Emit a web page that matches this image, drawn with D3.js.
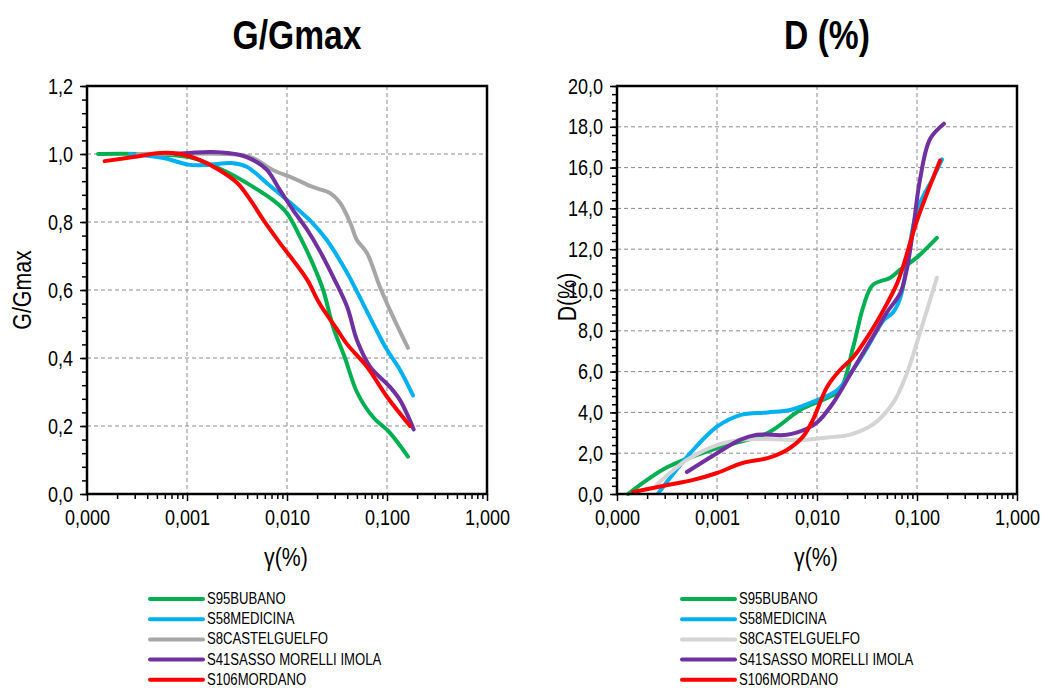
<!DOCTYPE html>
<html>
<head>
<meta charset="utf-8">
<script src="https://cdn.jsdelivr.net/npm/d3@7"></script>
<style>
  body { margin: 0; background: #fff; }
  svg text { font-family: "Liberation Sans", Arial, sans-serif; fill: #000; }
</style>
</head>
<body>
<div id="chart"></div>
<script>
// shared axis stuff
var gammaTicks = [0.0001, 0.001, 0.01, 0.1, 1];
var gammaLabels = ["0,000", "0,001", "0,010", "0,100", "1,000"];
var seriesNames = ["S95BUBANO", "S58MEDICINA", "S8CASTELGUELFO", "S41SASSO MORELLI IMOLA", "S106MORDANO"];

// G/Gmax curves  [gamma %, G/Gmax]
var ggBubano = [[0.000129, 1.0], [0.00034, 1.0], [0.00107, 0.99], [0.0025, 0.947], [0.0046, 0.903], [0.0072, 0.865],
  [0.010, 0.826], [0.0135, 0.756], [0.018, 0.679], [0.023, 0.60], [0.029, 0.49], [0.038, 0.40], [0.050, 0.30],
  [0.072, 0.227], [0.107, 0.18], [0.162, 0.11]];
var ggMedicina = [[0.00027, 1.0], [0.00058, 0.988], [0.00107, 0.968], [0.0016, 0.968], [0.0029, 0.973], [0.0040, 0.962],
  [0.0063, 0.914], [0.010, 0.865], [0.018, 0.797], [0.025, 0.747], [0.040, 0.65], [0.0575, 0.56], [0.079, 0.48],
  [0.100, 0.424], [0.135, 0.365], [0.182, 0.29]];
var ggCastel = [[0.00032, 1.0], [0.0034, 0.997], [0.0046, 0.988], [0.0072, 0.953], [0.0115, 0.929], [0.018, 0.903],
  [0.027, 0.885], [0.034, 0.856], [0.043, 0.797], [0.050, 0.747], [0.063, 0.709], [0.085, 0.609], [0.115, 0.521],
  [0.162, 0.43]];
var ggSasso = [[0.00076, 1.0], [0.0018, 1.006], [0.0034, 0.997], [0.0046, 0.982], [0.0063, 0.953], [0.0085, 0.894],
  [0.0115, 0.835], [0.016, 0.776], [0.021, 0.718], [0.029, 0.638], [0.040, 0.55], [0.050, 0.453], [0.068, 0.374],
  [0.107, 0.315], [0.135, 0.276], [0.185, 0.19]];
var ggMordano = [[0.00015, 0.979], [0.00029, 0.991], [0.00054, 1.003], [0.00085, 1.0], [0.00135, 0.982], [0.0021, 0.953],
  [0.0032, 0.914], [0.0043, 0.865], [0.0058, 0.806], [0.0085, 0.738], [0.0115, 0.688], [0.016, 0.629], [0.021, 0.562],
  [0.032, 0.482], [0.040, 0.44], [0.063, 0.374], [0.100, 0.286], [0.17, 0.2]];

// D (%) curves  [gamma %, D %]
var dBubano = [[0.000129, 0.0], [0.00032, 1.32], [0.001, 2.25], [0.0032, 2.99], [0.0068, 4.12], [0.0126, 4.71],
  [0.017, 5.1], [0.023, 7.2], [0.029, 9.17], [0.036, 10.24], [0.054, 10.6], [0.068, 11.0], [0.100, 11.6], [0.158, 12.55]];
var dMedicina = [[0.00026, 0.05], [0.00054, 2.0], [0.001, 3.3], [0.0017, 3.87], [0.0032, 4.0], [0.0054, 4.12],
  [0.010, 4.6], [0.016, 5.1], [0.023, 6.1], [0.032, 7.2], [0.046, 8.5], [0.0575, 8.9], [0.068, 9.6], [0.100, 13.9],
  [0.145, 15.5], [0.178, 16.4]];
var dCastel = [[0.00025, 0.45], [0.0005, 1.67], [0.001, 2.4], [0.0017, 2.65], [0.0032, 2.7], [0.0068, 2.65],
  [0.0145, 2.8], [0.021, 2.9], [0.036, 3.4], [0.0575, 4.46], [0.079, 5.9], [0.107, 7.9], [0.158, 10.6]];
var dSasso = [[0.0005, 1.08], [0.001, 2.0], [0.0017, 2.65], [0.0025, 2.9], [0.005, 2.9], [0.0079, 3.2], [0.010, 3.5],
  [0.0145, 4.46], [0.023, 6.1], [0.036, 7.7], [0.050, 8.9], [0.068, 9.85], [0.079, 11.0], [0.091, 12.9], [0.107, 15.4],
  [0.135, 17.4], [0.186, 18.15]];
var dMordano = [[0.000145, 0.1], [0.00032, 0.44], [0.00058, 0.69], [0.001, 1.03], [0.0018, 1.52], [0.0032, 1.76],
  [0.005, 2.16], [0.0072, 2.8], [0.0091, 3.63], [0.0126, 5.25], [0.017, 6.08], [0.023, 6.7], [0.032, 7.7],
  [0.046, 9.0], [0.063, 10.3], [0.072, 11.1], [0.100, 13.4], [0.145, 15.5], [0.17, 16.35]];

var ggYTicks = [0, 0.2, 0.4, 0.6, 0.8, 1.0, 1.2];
var dYTicks = [0, 2, 4, 6, 8, 10, 12, 14, 16, 18, 20];

var svgWidth = 1042;
var svgHeight = 688;
// no narrow font installed, so squeeze Liberation Sans horizontally
var squeeze = 0.82;

var svg = d3.select("#chart")
  .append("svg")
  .attr("width", svgWidth)
  .attr("height", svgHeight);

// minor log ticks 2..9 in every decade
var minorX = [];
[0.0001, 0.001, 0.01, 0.1].forEach(function(dec) {
  for (var k = 2; k <= 9; k++) minorX.push(dec * k);
});

// text helper: place at (x,y), optional rotation, narrowed
function addText(parent, x, y, str, size, extra) {
  return parent.append("text")
    .attr("transform", "translate(" + x + "," + y + ")" + (extra || "") + " scale(" + squeeze + ",1)")
    .style("font-size", size + "px")
    .text(str);
}

function drawPanel(p) {
  var x = d3.scaleLog().domain([0.0001, 1]).range([p.left, p.left + 400]);
  var y = d3.scaleLinear().domain([0, p.yMax]).range([494, 86]);
  var g = svg.append("g");

  // minor y ticks
  var minorY = d3.range(0, p.yMax + 1e-9, p.yMinor);

  // grid
  g.selectAll(".vgrid").data([0.001, 0.01, 0.1]).enter().append("line")
    .attr("x1", function(d) { return x(d); }).attr("x2", function(d) { return x(d); })
    .attr("y1", 86).attr("y2", 494)
    .attr("stroke", "#8c8c8c").attr("stroke-width", 1).attr("stroke-dasharray", "4,3");
  g.selectAll(".hgrid").data(p.yTicks.slice(1, -1)).enter().append("line")
    .attr("x1", p.left).attr("x2", p.left + 400)
    .attr("y1", function(d) { return y(d); }).attr("y2", function(d) { return y(d); })
    .attr("stroke", "#8c8c8c").attr("stroke-width", 1).attr("stroke-dasharray", "4,3");

  // axes
  var xAxis = d3.axisBottom(x).tickValues(gammaTicks)
    .tickFormat(function(d, i) { return gammaLabels[i]; }).tickSize(7).tickPadding(8);
  var xMinor = d3.axisBottom(x).tickValues(minorX).tickFormat("").tickSize(5);
  var yAxis = d3.axisLeft(y).tickValues(p.yTicks)
    .tickFormat(function(d) { return d3.format(".1f")(d).replace(".", ","); }).tickSize(7).tickPadding(7);
  var yMinor = d3.axisLeft(y).tickValues(minorY).tickFormat("").tickSize(5);

  [[xAxis, "x"], [xMinor, "x"], [yAxis, "y"], [yMinor, "y"]].forEach(function(a) {
    var ax = g.append("g")
      .attr("transform", a[1] === "x" ? "translate(0,494)" : "translate(" + p.left + ",0)")
      .call(a[0]);
    ax.select(".domain").remove();
    ax.selectAll("line").attr("stroke", "#000").attr("stroke-width", 1.5);
    ax.selectAll("text")
      .style("font-size", "22px")
      .attr("transform", "scale(" + squeeze + ",1)");
    if (a[1] === "y") {
      ax.selectAll("text").attr("x", -14 / squeeze);
    }
  });

  // curves
  var line = d3.line()
    .x(function(d) { return x(d[0]); })
    .y(function(d) { return y(d[1]); })
    .curve(d3.curveCatmullRom.alpha(0.5));

  p.series.forEach(function(s, i) {
    g.append("path")
      .datum(s)
      .attr("d", line)
      .attr("fill", "none")
      .attr("stroke", p.colors[i])
      .attr("stroke-width", 4)
      .attr("stroke-linecap", "round");
  });

  // frame
  g.append("rect")
    .attr("x", p.left).attr("y", 86).attr("width", 400).attr("height", 408)
    .attr("fill", "none").attr("stroke", "#000").attr("stroke-width", 2.5);

  // titles
  addText(g, p.left + 210, 49, p.title, 41)
    .attr("text-anchor", "middle").style("font-weight", "bold");
  addText(g, p.left + 199, 566, "γ(%)", 26)
    .attr("text-anchor", "middle");
  addText(g, p.yTitleX, p.yTitleY, p.yTitle, 26, " rotate(-90)")
    .attr("text-anchor", "middle");

  // legend
  seriesNames.forEach(function(name, i) {
    var ly = 599 + i * 20.2;
    g.append("line")
      .attr("x1", p.legX).attr("x2", p.legX + 53).attr("y1", ly).attr("y2", ly)
      .attr("stroke", p.colors[i])
      .attr("stroke-width", 4).attr("stroke-linecap", "round");
    addText(g, p.legX + 57, ly + 5, name, 16);
  });
}

drawPanel({
  left: 87, yMax: 1.2, yMinor: 0.04, yTicks: ggYTicks,
  title: "G/Gmax", yTitle: "G/Gmax", yTitleX: 31, yTitleY: 290,
  legX: 150,
  series: [ggBubano, ggMedicina, ggCastel, ggSasso, ggMordano],
  colors: ["#00b050", "#00b0f0", "#a6a6a6", "#7030a0", "#ff0000"]
});

drawPanel({
  left: 617, yMax: 20, yMinor: 0.4, yTicks: dYTicks,
  title: "D (%)", yTitle: "D(%)", yTitleX: 576, yTitleY: 297,
  legX: 682,
  series: [dBubano, dMedicina, dCastel, dSasso, dMordano],
  colors: ["#00b050", "#00b0f0", "#d4d4d4", "#7030a0", "#ff0000"]
});
</script>
</body>
</html>
